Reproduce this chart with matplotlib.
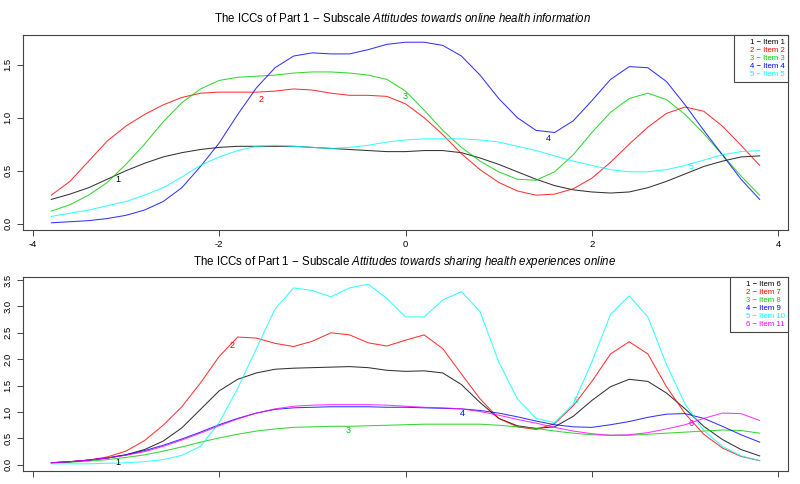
import matplotlib.pyplot as plt
from matplotlib.lines import Line2D

plt.rcParams['font.family'] = ['Liberation Sans', 'DejaVu Sans']
plt.rcParams['mathtext.fontset'] = 'custom'
plt.rcParams['mathtext.rm'] = 'Liberation Sans'
plt.rcParams['mathtext.it'] = 'Liberation Sans:italic'

# ability grid (theta)
theta = [-3.8, -3.6, -3.4, -3.2, -3.0, -2.8, -2.6, -2.4, -2.2, -2.0,
         -1.8, -1.6, -1.4, -1.2, -1.0, -0.8, -0.6, -0.4, -0.2, 0.0,
         0.2, 0.4, 0.6, 0.8, 1.0, 1.2, 1.4, 1.6, 1.8, 2.0,
         2.2, 2.4, 2.6, 2.8, 3.0, 3.2, 3.4, 3.6, 3.8]

# subscale 1: attitudes towards online health information
item1 = [0.23, 0.28, 0.34, 0.42, 0.50, 0.57, 0.63, 0.67, 0.70, 0.72,
         0.73, 0.73, 0.73, 0.73, 0.72, 0.71, 0.70, 0.69, 0.68, 0.68,
         0.69, 0.69, 0.67, 0.62, 0.56, 0.49, 0.42, 0.36, 0.32, 0.30,
         0.29, 0.30, 0.34, 0.40, 0.47, 0.54, 0.59, 0.63, 0.64]
item2 = [0.27, 0.40, 0.59, 0.78, 0.92, 1.03, 1.12, 1.19, 1.23, 1.24,
         1.24, 1.24, 1.25, 1.27, 1.26, 1.23, 1.21, 1.21, 1.20, 1.13,
         1.00, 0.84, 0.66, 0.51, 0.39, 0.31, 0.27, 0.28, 0.33, 0.43,
         0.58, 0.75, 0.91, 1.04, 1.10, 1.06, 0.92, 0.74, 0.55]
item3 = [0.12, 0.18, 0.27, 0.39, 0.56, 0.75, 0.96, 1.14, 1.27, 1.35,
         1.38, 1.39, 1.40, 1.42, 1.43, 1.43, 1.42, 1.40, 1.36, 1.25,
         1.07, 0.88, 0.72, 0.59, 0.49, 0.42, 0.41, 0.49, 0.65, 0.86,
         1.05, 1.18, 1.23, 1.17, 1.03, 0.85, 0.65, 0.45, 0.27]
item4 = [0.01, 0.02, 0.03, 0.05, 0.08, 0.13, 0.21, 0.34, 0.54, 0.76,
         1.03, 1.28, 1.47, 1.58, 1.61, 1.60, 1.60, 1.64, 1.69, 1.71,
         1.71, 1.68, 1.58, 1.40, 1.18, 1.00, 0.88, 0.86, 0.97, 1.16,
         1.36, 1.48, 1.47, 1.34, 1.12, 0.88, 0.65, 0.42, 0.23]
item5 = [0.07, 0.10, 0.13, 0.17, 0.21, 0.27, 0.34, 0.44, 0.55, 0.63,
         0.69, 0.73, 0.74, 0.73, 0.72, 0.71, 0.72, 0.74, 0.77, 0.79,
         0.80, 0.80, 0.80, 0.79, 0.77, 0.73, 0.69, 0.64, 0.59, 0.55,
         0.51, 0.49, 0.49, 0.51, 0.55, 0.60, 0.65, 0.68, 0.69]

# subscale 2: attitudes towards sharing health experiences online
item6 = [0.04, 0.06, 0.09, 0.13, 0.19, 0.29, 0.45, 0.70, 1.05, 1.40,
         1.62, 1.74, 1.81, 1.83, 1.84, 1.85, 1.86, 1.84, 1.79, 1.77,
         1.78, 1.74, 1.52, 1.18, 0.88, 0.74, 0.69, 0.72, 0.92, 1.22,
         1.48, 1.62, 1.58, 1.36, 1.06, 0.73, 0.48, 0.29, 0.17]
item7 = [0.04, 0.06, 0.09, 0.15, 0.26, 0.46, 0.75, 1.10, 1.55, 2.05,
         2.42, 2.40, 2.30, 2.24, 2.34, 2.50, 2.46, 2.31, 2.25, 2.36,
         2.46, 2.20, 1.72, 1.25, 0.88, 0.72, 0.67, 0.78, 1.12, 1.58,
         2.10, 2.33, 2.10, 1.48, 0.97, 0.58, 0.32, 0.16, 0.08]
item8 = [0.04, 0.05, 0.07, 0.10, 0.14, 0.19, 0.26, 0.34, 0.43, 0.51,
         0.58, 0.64, 0.68, 0.71, 0.72, 0.73, 0.73, 0.74, 0.75, 0.76,
         0.77, 0.77, 0.77, 0.77, 0.75, 0.72, 0.69, 0.64, 0.60, 0.57,
         0.56, 0.56, 0.58, 0.60, 0.62, 0.64, 0.66, 0.65, 0.60]
item9 = [0.04, 0.06, 0.09, 0.13, 0.19, 0.27, 0.37, 0.49, 0.62, 0.76,
         0.88, 0.98, 1.05, 1.08, 1.09, 1.10, 1.10, 1.10, 1.09, 1.09,
         1.08, 1.07, 1.06, 1.03, 0.98, 0.91, 0.83, 0.76, 0.72, 0.71,
         0.76, 0.82, 0.90, 0.96, 0.97, 0.88, 0.73, 0.57, 0.43]
item10 = [0.02, 0.02, 0.02, 0.03, 0.04, 0.06, 0.10, 0.18, 0.35, 0.80,
          1.45, 2.20, 2.95, 3.35, 3.30, 3.18, 3.35, 3.42, 3.15, 2.80,
          2.80, 3.12, 3.28, 2.90, 1.95, 1.25, 0.88, 0.80, 1.15, 1.95,
          2.85, 3.20, 2.80, 1.90, 1.15, 0.65, 0.35, 0.17, 0.08]
item11 = [0.04, 0.06, 0.09, 0.13, 0.18, 0.25, 0.35, 0.47, 0.60, 0.74,
          0.87, 0.98, 1.06, 1.11, 1.13, 1.14, 1.14, 1.14, 1.13, 1.11,
          1.09, 1.08, 1.06, 1.01, 0.94, 0.86, 0.79, 0.71, 0.64, 0.59,
          0.56, 0.57, 0.61, 0.68, 0.76, 0.88, 0.98, 0.97, 0.84]

# curve number labels drawn on the curves
top_lab_x = [-3.09, -1.55, 0.0, 1.53, 3.06]
top_lab_y = [0.42, 1.17, 1.20, 0.80, 0.54]
bot_lab_x = [-3.09, -1.86, -0.62, 0.61, 1.83, 3.06]
bot_lab_y = [0.04, 2.26, 0.65, 0.98, 1.22, 0.78]

top_names = ['Item 1', 'Item 2', 'Item 3', 'Item 4', 'Item 5']
bot_names = ['Item 6', 'Item 7', 'Item 8', 'Item 9', 'Item 10', 'Item 11']
colors = ['black', 'red', '#00CD00', 'blue', 'cyan', 'magenta']

box_col = '#444444'


def icc_panel(ax, curves, names, lab_x, lab_y, yticks, ylim, xlabels=True):
    for i, y in enumerate(curves):
        ax.plot(theta, y, color=colors[i], lw=0.75, alpha=0.8)
        ax.text(lab_x[i], lab_y[i], str(i + 1), color=colors[i],
                fontsize=6.5, ha='center', va='center')
    ax.set_xlim(-4.104, 4.104)
    ax.set_ylim(*ylim)
    ax.set_xticks([-4, -2, 0, 2, 4])
    if xlabels:
        ax.set_xticklabels(['-4', '-2', '0', '2', '4'])
    else:
        ax.set_xticklabels([])
    ax.set_yticks(yticks)
    ax.set_yticklabels(['%.1f' % t for t in yticks], rotation=90, va='center')
    ax.tick_params(length=4.5, width=0.7, color=box_col, labelsize=6.8, pad=3)
    for s in ax.spines.values():
        s.set_color(box_col)
        s.set_linewidth(0.8)
    handles = [Line2D([], [], color='none') for _ in names]
    labels = ['%d \u2212 %s' % (i + 1, n) for i, n in enumerate(names)]
    leg = ax.legend(handles, labels, loc='upper right', fontsize=5.6,
                    labelcolor=colors[:len(names)], handlelength=1.2,
                    handletextpad=0.35, labelspacing=0.08, borderpad=0.45,
                    borderaxespad=0, fancybox=False, framealpha=1,
                    edgecolor=box_col)
    leg.get_frame().set_linewidth(0.8)


fig = plt.figure(figsize=(8, 4.84), dpi=100)
ax1 = fig.add_axes([23 / 800, 1 - 230 / 484, 765 / 800, 195 / 484])
ax2 = fig.add_axes([23 / 800, 1 - 471 / 484, 765 / 800, 194 / 484])

icc_panel(ax1, [item1, item2, item3, item4, item5], top_names,
          top_lab_x, top_lab_y, [0.0, 0.5, 1.0, 1.5], (-0.058, 1.778))
icc_panel(ax2, [item6, item7, item8, item9, item10, item11], bot_names,
          bot_lab_x, bot_lab_y, [0.0, 0.5, 1.0, 1.5, 2.0, 2.5, 3.0, 3.5],
          (-0.116, 3.556), xlabels=False)

fig.text(403 / 800, 1 - 18 / 484,
         'The ICCs of Part 1 \u2212 Subscale '
         r'$\it{Attitudes\ towards\ online\ health\ information}$',
         ha='center', va='center', fontsize=8.3)
fig.text(405 / 800, 1 - 262 / 484,
         'The ICCs of Part 1 \u2212 Subscale '
         r'$\it{Attitudes\ towards\ sharing\ health\ experiences\ online}$',
         ha='center', va='center', fontsize=8.3)

fig.savefig('out.png', dpi=100)
